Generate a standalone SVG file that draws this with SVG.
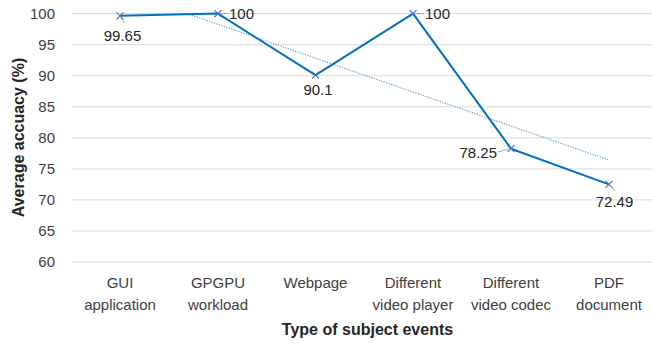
<svg xmlns="http://www.w3.org/2000/svg" width="652" height="345" viewBox="0 0 652 345">
  <style>
    text { font-family: "Liberation Sans", Arial, sans-serif; fill: #262626; }
    .tick { font-size: 15px; text-anchor: end; fill: #404040; }
    .cat { font-size: 15px; text-anchor: middle; fill: #404040; }
    .val { font-size: 15px; fill: #262626; }
    .title { font-size: 16px; font-weight: bold; text-anchor: middle; fill: #262626; }
    .grid line { stroke: #d9d9d9; stroke-width: 1; }
    .leader { stroke: #a6a6a6; stroke-width: 1; fill: none; }
    .series { stroke: #0070c0; stroke-width: 2; fill: none; stroke-linejoin: round; }
    .trend { stroke: #5b9bd5; stroke-width: 1.2; fill: none; stroke-dasharray: 1.2 1.4; }
  </style>
  <defs>
    <marker id="xmark" viewBox="-5 -5 10 10" markerWidth="10" markerHeight="10" markerUnits="userSpaceOnUse" refX="0" refY="0">
      <path d="M-3.5,-3.5 L3.5,3.5 M-3.5,3.5 L3.5,-3.5" stroke="#4472c4" stroke-width="1.1" fill="none"/>
    </marker>
  </defs>
  <rect width="652" height="345" fill="#ffffff"/>

  <!-- horizontal gridlines, 60 to 100 in steps of 5 -->
  <g class="grid">
    <line x1="71" y1="13.6" x2="652" y2="13.6"/>
    <line x1="71" y1="44.7" x2="652" y2="44.7"/>
    <line x1="71" y1="75.7" x2="652" y2="75.7"/>
    <line x1="71" y1="106.8" x2="652" y2="106.8"/>
    <line x1="71" y1="137.8" x2="652" y2="137.8"/>
    <line x1="71" y1="168.9" x2="652" y2="168.9"/>
    <line x1="71" y1="199.9" x2="652" y2="199.9"/>
    <line x1="71" y1="231" x2="652" y2="231"/>
    <line x1="71" y1="262" x2="652" y2="262"/>
  </g>

  <!-- y axis tick labels -->
  <g id="y-axis">
    <text class="tick" x="55" y="19">100</text>
    <text class="tick" x="55" y="50">95</text>
    <text class="tick" x="55" y="81">90</text>
    <text class="tick" x="55" y="112">85</text>
    <text class="tick" x="55" y="143">80</text>
    <text class="tick" x="55" y="174">75</text>
    <text class="tick" x="55" y="205">70</text>
    <text class="tick" x="55" y="236">65</text>
    <text class="tick" x="55" y="267">60</text>
    <text class="title" transform="translate(24,137.5) rotate(-90)">Average accuacy (%)</text>
  </g>

  <!-- x axis category labels -->
  <g id="x-axis">
    <text class="cat" x="120" y="288">GUI</text>
    <text class="cat" x="120" y="310">application</text>
    <text class="cat" x="218" y="288">GPGPU</text>
    <text class="cat" x="218" y="310">workload</text>
    <text class="cat" x="315.5" y="288">Webpage</text>
    <text class="cat" x="413" y="288">Different</text>
    <text class="cat" x="413" y="310">video player</text>
    <text class="cat" x="511" y="288">Different</text>
    <text class="cat" x="511" y="310">video codec</text>
    <text class="cat" x="609" y="288">PDF</text>
    <text class="cat" x="609" y="310">document</text>
    <text class="title" x="367.5" y="334.5">Type of subject events</text>
  </g>

  <!-- connectors: linear trendline and data series -->
  <g id="connectors">
    <line class="trend" x1="187" y1="13.6" x2="609" y2="160"/>
    <polyline class="series" points="120,15.8 218,13.6 315.5,75.1 413,13.6 511,148.7 609,184.4"
      marker-start="url(#xmark)" marker-mid="url(#xmark)" marker-end="url(#xmark)"/>
    <path class="leader" d="M120,16 L124,23 M220,13.6 L228,13.6 M415,13.6 L424,13.6 M498,152 L509,149 M610,185 L615,191"/>
  </g>

  <!-- data point labels -->
  <g id="p-gui"><text class="val" x="122.5" y="40.5" text-anchor="middle">99.65</text></g>
  <g id="p-gpgpu"><text class="val" x="229" y="18.5">100</text></g>
  <g id="p-web"><text class="val" x="318" y="95" text-anchor="middle">90.1</text></g>
  <g id="p-player"><text class="val" x="425" y="18.5">100</text></g>
  <g id="p-codec"><text class="val" x="497" y="158" text-anchor="end">78.25</text></g>
  <g id="p-pdf"><text class="val" x="614.5" y="206.5" text-anchor="middle">72.49</text></g>
</svg>
